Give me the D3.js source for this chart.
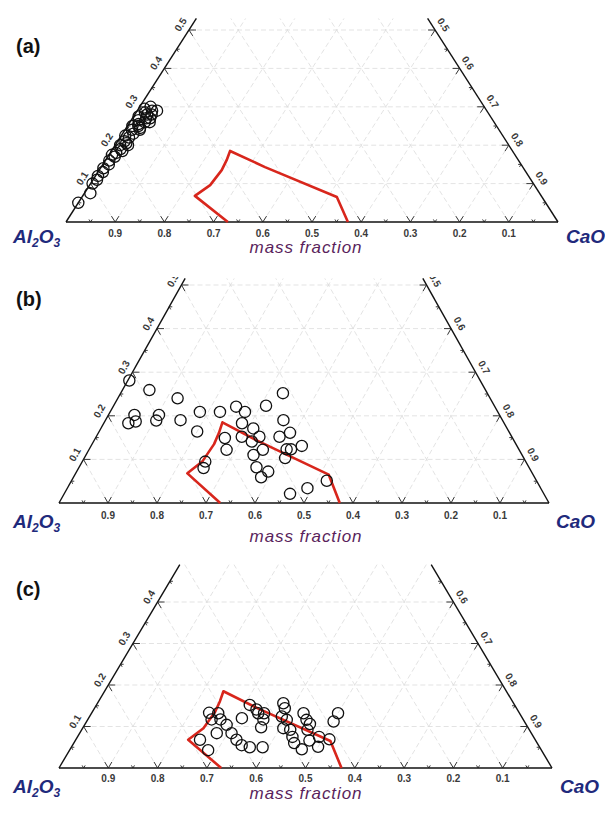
<!DOCTYPE html>
<html>
<head>
<meta charset="utf-8">
<script src="https://cdn.jsdelivr.net/npm/d3@7"></script>
<style>
  body { margin: 0; background: #fff; }
  svg { display: block; }
</style>
</head>
<body>
<svg id="chart" width="605" height="823"></svg>
<script>
// ---- Data (mass fractions; Al2O3 = 1 - SiO2 - CaO) ----
const axisTicks = [0.1, 0.2, 0.3, 0.4, 0.5, 0.6, 0.7, 0.8, 0.9];
const minorTicks = [0.05, 0.15, 0.25, 0.35, 0.45, 0.55, 0.65, 0.75, 0.85, 0.95];
const panelNames = ["(a)", "(b)", "(c)"];

// Liquid region boundary
const regionSiO2 = [0, 0.068, 0.096, 0.135, 0.161, 0.185, 0.143, 0.065, 0];
const regionCaO  = [0.329, 0.228, 0.245, 0.249, 0.246, 0.241, 0.333, 0.518, 0.573];

// Sample set (a)
const setA_SiO2 = [0.05, 0.075, 0.10, 0.11, 0.12, 0.13, 0.14, 0.15, 0.16, 0.17, 0.175, 0.18, 0.19, 0.20,
  0.205, 0.21, 0.22, 0.225, 0.23, 0.24, 0.245, 0.25, 0.255, 0.26, 0.265, 0.27, 0.275, 0.28, 0.285,
  0.29, 0.295, 0.30, 0.26, 0.27, 0.28, 0.25, 0.29, 0.24, 0.20, 0.185];
const setA_CaO = [0.000, 0.012, 0.004, 0.008, 0.005, 0.010, 0.006, 0.012, 0.008, 0.014, 0.006, 0.012, 0.016, 0.010,
  0.020, 0.014, 0.018, 0.008, 0.022, 0.014, 0.028, 0.010, 0.020, 0.030, 0.015, 0.036, 0.010, 0.025, 0.018,
  0.030, 0.012, 0.022, 0.040, 0.028, 0.034, 0.022, 0.040, 0.030, 0.026, 0.022];

// Sample set (b)
const setB_SiO2 = [0.281, 0.259, 0.240, 0.202, 0.183, 0.187, 0.202, 0.189, 0.190, 0.209, 0.209, 0.164,
  0.221, 0.209, 0.149, 0.122, 0.183, 0.152, 0.171, 0.152, 0.141, 0.110, 0.122, 0.223, 0.252, 0.190,
  0.152, 0.161, 0.123, 0.123, 0.103, 0.131, 0.082, 0.072, 0.059, 0.021, 0.034, 0.051, 0.095, 0.080];
const setB_CaO = [0.003, 0.055, 0.122, 0.053, 0.050, 0.063, 0.103, 0.104, 0.153, 0.183, 0.224, 0.200,
  0.251, 0.275, 0.264, 0.281, 0.282, 0.297, 0.311, 0.333, 0.323, 0.342, 0.355, 0.311, 0.331, 0.363,
  0.374, 0.391, 0.403, 0.412, 0.410, 0.430, 0.362, 0.391, 0.383, 0.461, 0.490, 0.521, 0.251, 0.255];

// Sample set (c)
const setC_SiO2 = [0.133, 0.132, 0.117, 0.117, 0.068, 0.043, 0.104, 0.084, 0.084, 0.068, 0.055, 0.050,
  0.050, 0.120, 0.152, 0.141, 0.132, 0.132, 0.117, 0.098, 0.156, 0.144, 0.124, 0.116, 0.096, 0.092,
  0.075, 0.060, 0.045, 0.132, 0.116, 0.106, 0.092, 0.066, 0.051, 0.075, 0.069, 0.132, 0.112];
const setC_CaO = [0.238, 0.257, 0.251, 0.269, 0.252, 0.281, 0.288, 0.278, 0.308, 0.326, 0.343, 0.362,
  0.388, 0.311, 0.311, 0.330, 0.338, 0.350, 0.356, 0.361, 0.377, 0.386, 0.390, 0.404, 0.407, 0.423,
  0.436, 0.447, 0.470, 0.430, 0.444, 0.456, 0.458, 0.475, 0.500, 0.490, 0.514, 0.500, 0.501];

const sampleSets = [
  { SiO2: setA_SiO2, CaO: setA_CaO },
  { SiO2: setB_SiO2, CaO: setB_CaO },
  { SiO2: setC_SiO2, CaO: setC_CaO }
];

// ---- Layout of the three truncated ternary panels ----
const layout = [
  { x0: 66, y0: 222, L: 492, H: 384, tmax: 0.53, clipTop: 0,
    tagY: 53, cornerY: 243, caoX: 566, massY: 253, tickLabelDy: 15 },
  { x0: 59, y0: 503, L: 490, H: 436, tmax: 0.515, clipTop: 277,
    tagY: 306, cornerY: 528, caoX: 556, massY: 542, tickLabelDy: 16 },
  { x0: 59, y0: 768, L: 493, H: 415, tmax: 0.49, clipTop: 560,
    tagY: 596, cornerY: 793, caoX: 560, massY: 799, tickLabelDy: 14 }
];

const svg = d3.select("#chart");
svg.append("rect").attr("width", 605).attr("height", 823).attr("fill", "#fff");
const fmt = d3.format(".1f");
const defs = svg.append("defs");

layout.forEach((p, i) => {
  const x = d3.scaleLinear().domain([0, 1]).range([p.x0, p.x0 + p.L]);
  const y = d3.scaleLinear().domain([0, 1]).range([p.y0, p.y0 - p.H]);
  // ternary (SiO2, CaO) -> screen
  const pt = (s, c) => [x(c + s / 2), y(s)];
  // unit screen direction for a move in composition space
  const dir = (dS, dC) => {
    const vx = x(dC + dS / 2) - x(0), vy = y(dS) - y(0);
    const n = Math.hypot(vx, vy);
    return [vx / n, vy / n];
  };

  defs.append("clipPath").attr("id", "clip" + i)
    .append("rect").attr("x", 0).attr("y", p.clipTop).attr("width", 605).attr("height", 823 - p.clipTop);

  const g = svg.append("g").attr("clip-path", `url(#clip${i})`);
  const line = d3.line();

  // grid
  const grid = g.append("g").attr("stroke", "#dcdcdc").attr("stroke-width", 0.8)
    .attr("stroke-dasharray", "5,3").attr("fill", "none");
  axisTicks.forEach(v => {
    if (v <= p.tmax) grid.append("path").attr("d", line([pt(v, 0), pt(v, 1 - v)]));
    const sTopC = Math.min(p.tmax, 1 - v);
    grid.append("path").attr("d", line([pt(0, v), pt(sTopC, v)]));
    const sTopA = Math.min(p.tmax, v);
    grid.append("path").attr("d", line([pt(0, v), pt(sTopA, v - sTopA)]));
  });

  // triangle edges (truncated at the top)
  const edges = g.append("g").attr("stroke", "#111").attr("stroke-width", 1.4).attr("fill", "none");
  edges.append("path").attr("d", line([pt(0, 0), pt(0, 1)]));
  edges.append("path").attr("d", line([pt(0, 0), pt(p.tmax, 0)]));
  edges.append("path").attr("d", line([pt(0, 1), pt(p.tmax, 1 - p.tmax)]));

  // chevron ticks
  const ticks = g.append("g").attr("stroke", "#222").attr("stroke-width", 0.9).attr("fill", "none");
  const chevron = (o, a1, a2, len) => line([
    [o[0] + a1[0] * len, o[1] + a1[1] * len], o, [o[0] + a2[0] * len, o[1] + a2[1] * len]
  ]);
  const baseA = [dir(1, 0), dir(1, -1)];
  const leftA = [dir(0, 1), dir(-1, 1)];
  const rightA = [dir(0, -1), dir(-1, 0)];
  const drawTicks = (vals, len) => vals.forEach(v => {
    ticks.append("path").attr("d", chevron(pt(0, v), baseA[0], baseA[1], len));
    if (v <= p.tmax) {
      ticks.append("path").attr("d", chevron(pt(v, 0), leftA[0], leftA[1], len));
      ticks.append("path").attr("d", chevron(pt(v, 1 - v), rightA[0], rightA[1], len));
    }
  });
  drawTicks(axisTicks, 7);
  drawTicks(minorTicks, 3);

  // tick labels
  const labels = g.append("g").attr("font-family", "Liberation Sans, Arial, sans-serif")
    .attr("font-size", 10).attr("font-weight", "bold").attr("fill", "#3a3a3a")
    .attr("text-anchor", "middle");
  axisTicks.forEach(v => {
    const b = pt(0, v);
    labels.append("text").attr("x", b[0]).attr("y", b[1] + p.tickLabelDy).text(fmt(1 - v));
  });
  const le = dir(1, 0);            // left edge direction, upward
  const re = dir(-1, 1);           // right edge direction, downward
  const leftAng = Math.atan2(le[1], le[0]) * 180 / Math.PI;
  const rightAng = Math.atan2(re[1], re[0]) * 180 / Math.PI;
  const leftN = [le[1], -le[0]];   // outward normal (left/up)
  const rightN = [re[1], -re[0]];  // outward normal (right/up)
  axisTicks.filter(v => v <= p.tmax).forEach(v => {
    const a = pt(v, 0);
    const lx = a[0] + leftN[0] * 10, ly = a[1] + leftN[1] * 10;
    labels.append("text").attr("transform", `translate(${lx},${ly}) rotate(${leftAng})`)
      .attr("dy", "0.35em").text(fmt(v));
    const r = pt(v, 1 - v);
    const rx = r[0] + rightN[0] * 10, ry = r[1] + rightN[1] * 10;
    labels.append("text").attr("transform", `translate(${rx},${ry}) rotate(${rightAng})`)
      .attr("dy", "0.35em").text(fmt(1 - v));
  });

  // liquid region
  g.append("path")
    .attr("d", line(regionSiO2.map((s, k) => pt(s, regionCaO[k]))))
    .attr("fill", "none").attr("stroke", "#d8261c").attr("stroke-width", 2.6)
    .attr("stroke-linejoin", "round");

  // samples
  const set = sampleSets[i];
  g.append("g").selectAll("circle")
    .data(set.SiO2.map((s, k) => pt(s, set.CaO[k])))
    .join("circle")
    .attr("cx", d => d[0]).attr("cy", d => d[1]).attr("r", 5.6)
    .attr("fill", "none").attr("stroke", "#111").attr("stroke-width", 1.3);

  // panel texts
  svg.append("text").attr("x", 16).attr("y", p.tagY)
    .attr("font-family", "Liberation Sans, Arial, sans-serif").attr("font-size", 20)
    .attr("font-weight", "bold").attr("fill", "#111").text(panelNames[i]);

  const corner = svg.append("text").attr("x", 13).attr("y", p.cornerY)
    .attr("font-family", "Liberation Sans, Arial, sans-serif").attr("font-size", 19)
    .attr("font-weight", "bold").attr("font-style", "italic").attr("fill", "#1f2a7c");
  corner.append("tspan").text("Al");
  corner.append("tspan").attr("font-size", 12).attr("dy", 4).text("2");
  corner.append("tspan").attr("dy", -4).text("O");
  corner.append("tspan").attr("font-size", 12).attr("dy", 4).text("3");

  svg.append("text").attr("x", p.caoX).attr("y", p.cornerY)
    .attr("font-family", "Liberation Sans, Arial, sans-serif").attr("font-size", 19)
    .attr("font-weight", "bold").attr("font-style", "italic").attr("fill", "#1f2a7c").text("CaO");

  svg.append("text").attr("x", 306).attr("y", p.massY).attr("text-anchor", "middle")
    .attr("font-family", "Liberation Sans, Arial, sans-serif").attr("font-size", 17)
    .attr("font-style", "italic").attr("letter-spacing", 0.9).attr("fill", "#5a1f5c")
    .text("mass fraction");
});
</script>
</body>
</html>
